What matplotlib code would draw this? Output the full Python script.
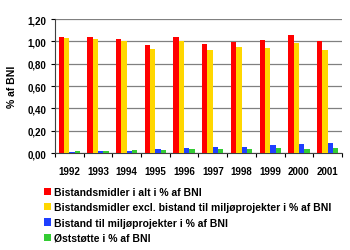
import matplotlib
matplotlib.use("Agg")
import matplotlib.pyplot as plt
import numpy as np
from matplotlib.ticker import FuncFormatter

years = ["1992", "1993", "1994", "1995", "1996", "1997", "1998", "1999", "2000", "2001"]
total = [1.036, 1.039, 1.02, 0.964, 1.04, 0.973, 0.997, 1.01, 1.06, 1.003]
excl_env = [1.027, 1.02, 1.0, 0.934, 1.0, 0.92, 0.946, 0.943, 0.985, 0.92]
env = [0.006, 0.015, 0.018, 0.033, 0.048, 0.057, 0.051, 0.069, 0.078, 0.09]
east = [0.021, 0.021, 0.024, 0.024, 0.033, 0.033, 0.039, 0.042, 0.039, 0.048]

labels = ["Bistandsmidler i alt i % af BNI",
          "Bistandsmidler excl. bistand til miljøprojekter i % af BNI",
          "Bistand til miljøprojekter i % af BNI",
          "Øststøtte i % af BNI"]
colors = ["#ff0000", "#ffd700", "#1f3fff", "#33cc33"]

plt.rcParams['font.family'] = ['Liberation Sans', 'DejaVu Sans']
plt.rcParams['font.weight'] = 'bold'

fig = plt.figure(figsize=(3.5, 2.51), dpi=100)
ax = fig.add_axes([0.157, 0.386, 0.82, 0.534])

x = np.arange(len(years))
w = 0.185
series = [total, excl_env, env, east]
handles = []
for i, (vals, c) in enumerate(zip(series, colors)):
    h = ax.bar(x + (i - 1.5) * w, vals, width=w, color=c, edgecolor='none', zorder=3)
    handles.append(h)

ax.set_xlim(-0.5, len(years) - 0.5)
ax.set_ylim(0, 1.2)
ax.set_yticks(np.arange(0, 1.21, 0.2))
ax.yaxis.set_major_formatter(FuncFormatter(lambda v, p: f"{v:.2f}".replace('.', ',')))
ax.yaxis.grid(True, color='#808080', linewidth=0.9, zorder=0)
ax.set_xticks(x)
ax.set_xticklabels(years)
ax.set_xticks(np.arange(-0.5, len(years), 1.0), minor=True)
ax.tick_params(axis='x', which='major', length=0, pad=9, labelsize=7)
ax.tick_params(axis='x', which='minor', length=3, width=0.8, direction='out')
ax.tick_params(axis='y', length=3, width=0.8, labelsize=7, pad=3)
for s in ['top', 'right']:
    ax.spines[s].set_visible(False)
ax.spines['left'].set_color('#404040')
ax.spines['bottom'].set_color('#404040')
ax.set_ylabel("% af BNI", fontsize=7.5, fontweight='bold', labelpad=8)

fig.legend(handles, labels, loc='upper left', bbox_to_anchor=(0.125, 0.25),
           frameon=False, fontsize=7.5, handlelength=0.7, handleheight=0.7,
           handletextpad=0.3, labelspacing=0.5, borderaxespad=0, borderpad=0)

fig.savefig("out.png", dpi=100)
